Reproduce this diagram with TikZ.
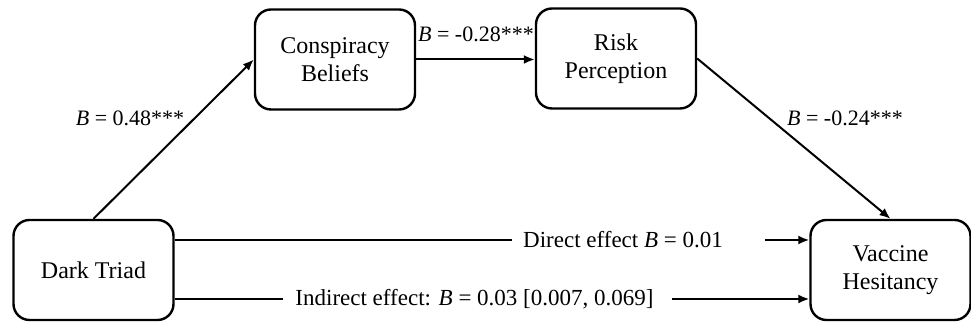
\documentclass[tikz,border=0pt]{standalone}
\usepackage{fontspec}
\setmainfont{Liberation Serif}
\usetikzlibrary{arrows.meta}
\tikzset{
  varbox/.style={draw, line width=1.2pt, rounded corners=8pt, align=center,
    minimum width=80pt, minimum height=50pt, inner sep=2pt, font=\fontsize{12}{14}\selectfont},
  coef/.style={inner sep=0pt, font=\fontsize{11}{13}\selectfont},
  efflab/.style={inner sep=0pt, font=\fontsize{11.5}{13}\selectfont},
  conn/.style={line width=1pt},
  arr/.style={line width=1pt, -{Latex[length=5.5pt,width=4.5pt]}}
}
\begin{document}
\begin{tikzpicture}[x=0.5pt,y=-0.5pt]
\useasboundingbox (0,0) rectangle (971,324);
\node[varbox] (DT) at (93.5,270) {Dark Triad};
\node[varbox] (CB) at (335,59.5) {Conspiracy\\Beliefs};
\node[varbox] (RP) at (616,58.5) {Risk\\Perception};
\node[varbox] (VH) at (890.5,270) {Vaccine\\Hesitancy};

\draw[arr] (DT.north) -- (CB.west);
\draw[arr] (CB.east) -- (CB.east -| RP.west);
\draw[arr] (RP.east) -- (VH.north);

\node[coef] (l1) at (130,118) {\textit{B} = 0.48***};
\node[coef] (l2) at (476,34) {\textit{B} = -0.28***};
\node[coef] (l3) at (845,118) {\textit{B} = -0.24***};

\node[efflab] (dl) at (623,240) {Direct effect \textit{B} = 0.01};
\node[efflab] (il) at (474.5,299) {Indirect effect: \textit{B} = 0.03 [0.007, 0.069]};

\draw[conn] (DT.east |- dl.west) -- ([xshift=-5.5pt]dl.west);
\draw[arr] ([xshift=21pt]dl.east) -- (VH.west |- dl.east);
\draw[conn] (DT.east |- il.west) -- ([xshift=-6pt]il.west);
\draw[arr] ([xshift=9pt]il.east) -- (VH.west |- il.east);
\end{tikzpicture}
\end{document}
